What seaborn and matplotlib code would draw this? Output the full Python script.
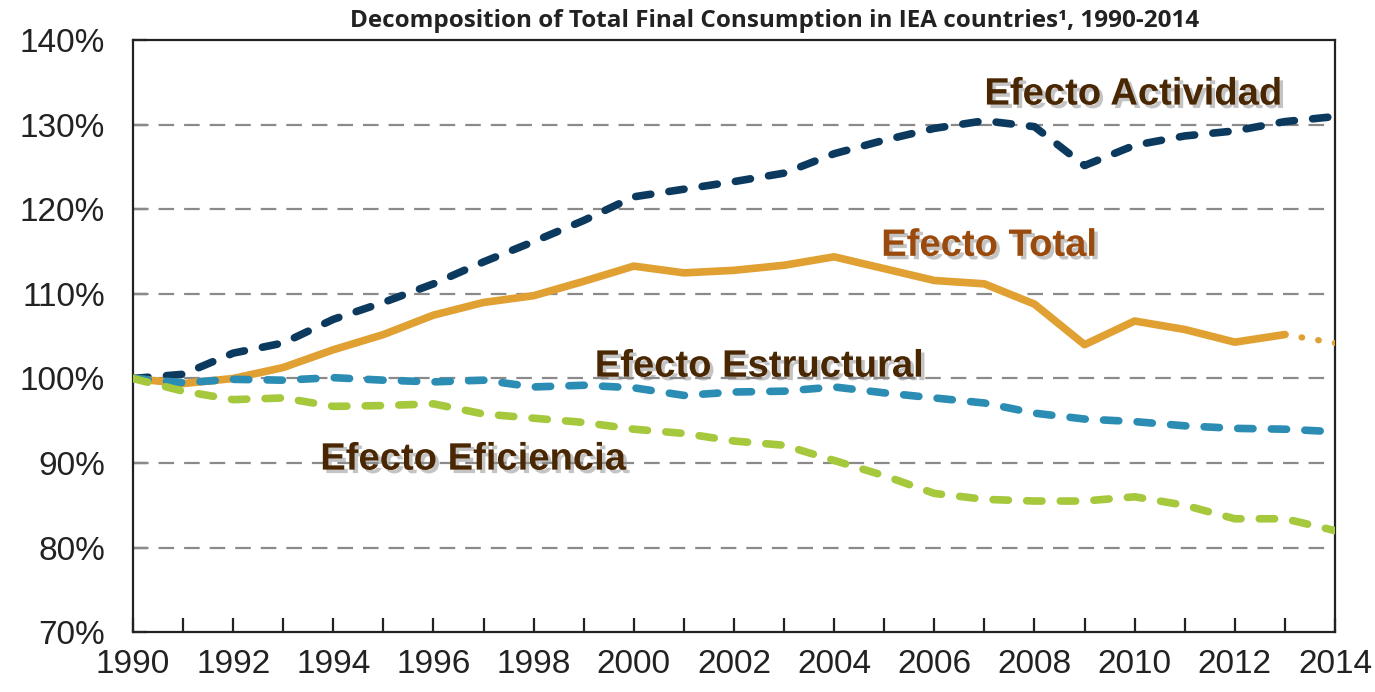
import pandas as pd
import seaborn as sns
import matplotlib.pyplot as plt
import matplotlib.patheffects as pe
from matplotlib import font_manager
from matplotlib.ticker import FixedLocator, FuncFormatter

# values (index 1990 = 100%)
years = list(range(1990, 2015))
actividad = [100, 100.5, 103.0, 104.2, 107.0, 109.0, 111.2, 113.8, 116.2, 118.7, 121.5, 122.4,
             123.3, 124.3, 126.6, 128.2, 129.6, 130.5, 129.8, 125.2, 127.6, 128.7, 129.3, 130.4, 131.0]
total = [100, 99.4, 100.0, 101.3, 103.4, 105.2, 107.5, 109.0, 109.8, 111.5, 113.3, 112.5,
         112.8, 113.4, 114.4, 113.0, 111.6, 111.2, 108.8, 104.0, 106.8, 105.8, 104.3, 105.2, 104.2]
estructural = [100, 99.5, 99.9, 99.8, 100.1, 99.8, 99.6, 99.8, 99.0, 99.2, 98.9, 98.0,
               98.4, 98.5, 99.0, 98.3, 97.7, 97.1, 95.9, 95.2, 94.9, 94.4, 94.1, 94.0, 93.7]
eficiencia = [100, 98.5, 97.5, 97.7, 96.7, 96.8, 97.0, 95.8, 95.3, 94.8, 94.0, 93.5,
              92.6, 92.1, 90.3, 88.5, 86.4, 85.7, 85.5, 85.5, 86.0, 85.0, 83.4, 83.4, 82.0]
total_last = 2013  # total is solid up to 2013, dotted afterwards

series_names = ["Efecto Actividad", "Efecto Total", "Efecto Estructural", "Efecto Eficiencia"]
colors = {"Efecto Actividad": "#0c3a5e", "Efecto Total": "#e0a032",
          "Efecto Estructural": "#2b8db3", "Efecto Eficiencia": "#a6c83c"}

df = pd.DataFrame({"year": years * 4,
                   "value": actividad + total + estructural + eficiencia,
                   "series": [n for n in series_names for _ in years]})
solid = df[~((df.series == "Efecto Total") & (df.year > total_last))]
tail = df[(df.series == "Efecto Total") & (df.year >= total_last)]

sns.set_style("white")
plt.rcParams["font.family"] = ["Liberation Sans", "DejaVu Sans"]

installed = {f.name for f in font_manager.fontManager.ttflist}
if "Liberation Sans Narrow" in installed:
    lab_font, lab_size = "Liberation Sans Narrow", 33
else:
    lab_font, lab_size = "Liberation Sans", 27.5

fig = plt.figure(figsize=(13.75, 6.92), dpi=100)
ax = fig.add_axes([0.0967, 0.0867, 0.8742, 0.8548])

# grid
for g in [80, 90, 100, 110, 120, 130]:
    ax.axhline(g, color="#8a8a8a", lw=1.6, dashes=(7, 4.5), zorder=1)

sns.lineplot(data=solid, x="year", y="value", hue="series", style="series",
             palette=colors, hue_order=series_names, style_order=series_names,
             dashes={"Efecto Actividad": (2.0, 2.4), "Efecto Total": "",
                     "Efecto Estructural": (2.0, 2.4), "Efecto Eficiencia": (2.0, 2.4)},
             lw=5.5, dash_capstyle="round", solid_capstyle="round", legend=False, ax=ax, zorder=3)
sns.lineplot(data=tail, x="year", y="value", color=colors["Efecto Total"], lw=4.5,
             linestyle=(0, (0.1, 2.6)), dash_capstyle="round", legend=False, ax=ax, zorder=3)

ax.set_xlim(1990, 2014)
ax.set_ylim(70, 140)
# a tick at every year, a label every second year
ax.xaxis.set_major_locator(FixedLocator(years))
ax.xaxis.set_major_formatter(FuncFormatter(lambda v, p: f"{v:.0f}" if int(round(v)) % 2 == 0 else ""))
ax.yaxis.set_major_locator(FixedLocator(list(range(70, 141, 10))))
ax.yaxis.set_major_formatter(FuncFormatter(lambda v, p: f"{v:.0f}%"))
ax.tick_params(axis="both", which="major", direction="in", length=10, width=1.6,
               color="#222222", labelsize=24, labelcolor="#222222")
ax.tick_params(axis="y", pad=20, left=True, right=False)
ax.tick_params(axis="x", pad=12, bottom=True, top=False)
ax.set_xlabel("")
ax.set_ylabel("")
for s in ax.spines.values():
    s.set_color("#222222")
    s.set_linewidth(1.6)
    s.set_visible(True)

shadow = [pe.SimplePatchShadow(offset=(2.5, -2.5), shadow_rgbFace="#8a8a8a", alpha=0.5), pe.Normal()]
labels = [("Efecto Actividad", 2007.0, 133.6, "#4a2703"),
          ("Efecto Total", 2004.94, 115.7, "#9a4a0c"),
          ("Efecto Estructural", 1999.22, 101.4, "#4a2703"),
          ("Efecto Eficiencia", 1993.74, 90.4, "#4a2703")]
for txt, lx, ly, c in labels:
    ax.text(lx, ly, txt, color=c, fontsize=lab_size, fontweight="bold", family=lab_font,
            ha="left", va="center", path_effects=shadow, zorder=5)

fig.text(0.563, 0.970, "Decomposition of Total Final Consumption in IEA countries\u00b9, 1990-2014",
         ha="center", va="center", fontsize=17.5, fontweight="bold", family=["Open Sans", "DejaVu Sans"],
         color="#222222")

fig.savefig("out.png", dpi=100)
